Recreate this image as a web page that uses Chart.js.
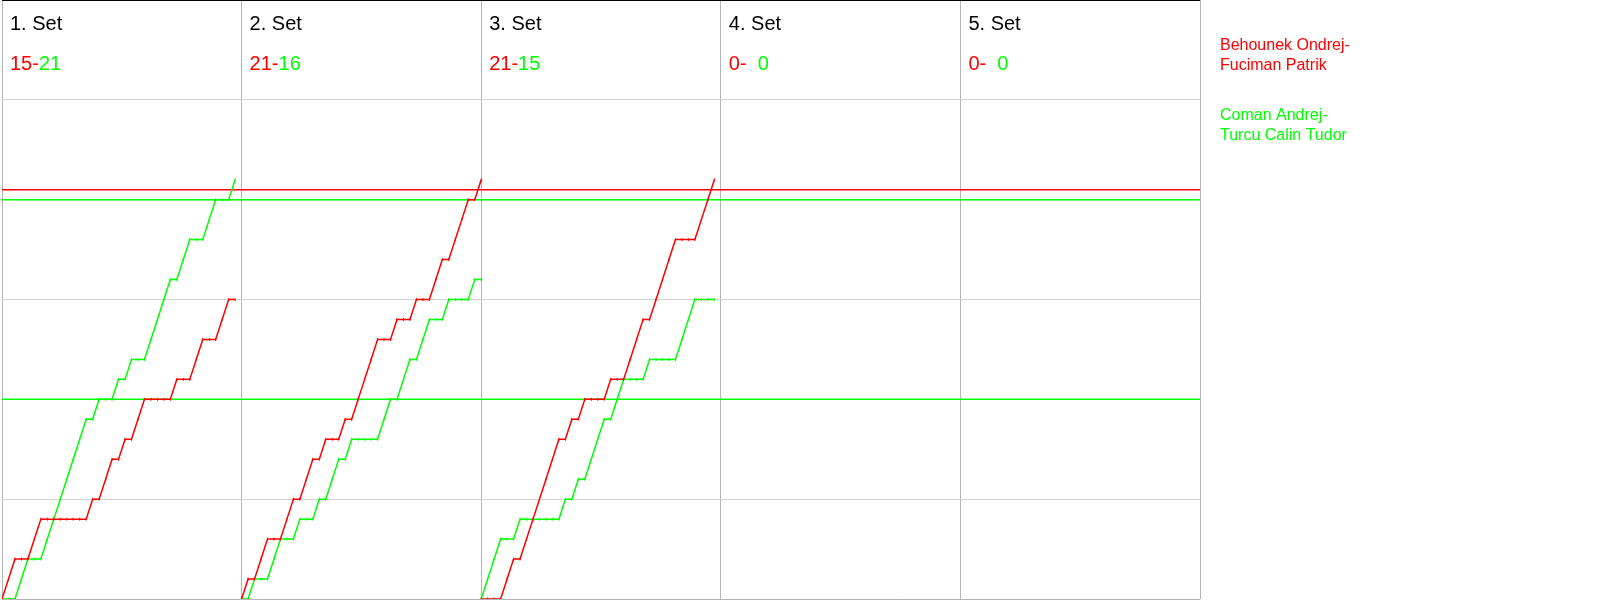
<!DOCTYPE html>
<html>
<head>
<meta charset="utf-8">
<script src="https://cdn.jsdelivr.net/npm/chart.js@4/dist/chart.umd.min.js"></script>
<style>
html,body{margin:0;padding:0;background:#fff;overflow:hidden}
canvas{display:block}
</style>
</head>
<body>
<canvas id="c" width="1600" height="600"></canvas>
<script>
// ---- data ----
const setLabels = ['1. Set', '2. Set', '3. Set', '4. Set', '5. Set'];
const redSetScores = [15, 21, 21, 0, 0];
const greenSetScores = [21, 16, 15, 0, 0];
const redTeam = ['Behounek Ondrej-', 'Fuciman Patrik'];
const greenTeam = ['Coman Andrej-', 'Turcu Calin Tudor'];
const ralliesPerPanel = 37;

// score after each rally (index 0 = start of set)
const set1Red   = [0,1,2,2,2,3,4,4,4,4,4,4,4,4,5,5,6,7,7,8,8,9,10,10,10,10,10,11,11,11,12,13,13,13,14,15,15];
const set1Green = [0,0,0,1,2,2,2,3,4,5,6,7,8,9,9,10,10,10,11,11,12,12,12,13,14,15,16,16,17,18,18,18,19,20,20,20,21];
const set2Red   = [0,1,1,2,3,3,3,4,5,5,6,7,7,8,8,8,9,9,10,11,12,13,13,13,14,14,14,15,15,15,16,17,17,18,19,20,20,21];
const set2Green = [0,0,1,1,1,2,3,3,3,4,4,4,5,5,6,7,7,8,8,8,8,8,9,10,10,11,12,12,13,14,14,14,15,15,15,15,16,16];
const set3Red   = [0,0,0,0,1,2,2,3,4,5,6,7,8,8,9,9,10,10,10,10,11,11,11,12,13,14,14,15,16,17,18,18,18,18,19,20,21];
const set3Green = [0,1,2,3,3,3,4,4,4,4,4,4,4,5,5,6,6,7,8,9,9,10,11,11,11,11,12,12,12,12,12,13,14,15,15,15,15];

const redSeries = [set1Red, set2Red, set3Red];
const greenSeries = [set1Green, set2Green, set3Green];

const redRefLevels = [20.5];
const greenRefLevels = [10, 20];

// ---- styling ----
const RED = '#ff0000';
const GREEN = '#00ff00';
const FONT = '"Liberation Sans", Arial, Helvetica, sans-serif';
const xMax = ralliesPerPanel * setLabels.length;

function progression(arr, setIdx) {
  return arr.map((v, i) => ({ x: setIdx * ralliesPerPanel + i, y: v }));
}

const datasets = [];
redSeries.forEach((arr, k) => datasets.push({
  data: progression(arr, k), borderColor: RED, pointBorderColor: RED, order: 1
}));
greenSeries.forEach((arr, k) => datasets.push({
  data: progression(arr, k), borderColor: GREEN, pointBorderColor: GREEN, order: 1
}));
redRefLevels.forEach(v => datasets.push({
  data: [{ x: 0, y: v }, { x: xMax, y: v }], borderColor: RED, pointRadius: 0, order: 2
}));
greenRefLevels.forEach(v => datasets.push({
  data: [{ x: 0, y: v }, { x: xMax, y: v }], borderColor: GREEN, pointRadius: 0, order: 2
}));

const textPlugin = {
  id: 'texts',
  afterDraw(chart) {
    const ctx = chart.ctx;
    const xs = chart.scales.x;
    ctx.save();
    ctx.textBaseline = 'alphabetic';
    ctx.textAlign = 'left';
    setLabels.forEach((lab, k) => {
      const px = xs.getPixelForValue(k * ralliesPerPanel) + 8;
      ctx.font = '20px ' + FONT;
      ctx.fillStyle = '#000000';
      ctx.fillText(lab, px, 30);
      const rTxt = redSetScores[k] + '-';
      ctx.fillStyle = RED;
      ctx.fillText(rTxt, px, 70);
      let gx = px + ctx.measureText(rTxt).width;
      if (greenSetScores[k] < 10) gx += ctx.measureText('0').width;
      ctx.fillStyle = GREEN;
      ctx.fillText(String(greenSetScores[k]), gx, 70);
    });
    ctx.font = '16px ' + FONT;
    ctx.fillStyle = RED;
    redTeam.forEach((t, i) => ctx.fillText(t, 1220, 50 + 20 * i));
    ctx.fillStyle = GREEN;
    greenTeam.forEach((t, i) => ctx.fillText(t, 1220, 120 + 20 * i));
    ctx.restore();
  }
};

new Chart(document.getElementById('c'), {
  type: 'line',
  data: { datasets },
  options: {
    responsive: false,
    animation: false,
    events: [],
    layout: { autoPadding: false, padding: { left: 2, right: 400, top: 0, bottom: 1 } },
    elements: {
      line: { borderWidth: 1.5, tension: 0, fill: false },
      point: { radius: 1.5, pointStyle: 'line', rotation: 90, borderWidth: 1 }
    },
    plugins: { legend: { display: false }, tooltip: { enabled: false } },
    scales: {
      x: {
        type: 'linear', min: 0, max: xMax,
        ticks: { display: false, stepSize: ralliesPerPanel, padding: 0 },
        grid: { color: '#b4b4b4', lineWidth: 1, drawTicks: false },
        border: { display: false }
      },
      y: {
        type: 'linear', min: 0, max: 30,
        ticks: { display: false, stepSize: 5, padding: 0 },
        grid: {
          drawTicks: false,
          color: c => c.tick.value === 30 ? '#000000' : (c.tick.value === 0 ? '#b4b4b4' : '#d3d3d3'),
          lineWidth: c => c.tick.value === 30 ? 2 : 1
        },
        border: { display: false }
      }
    }
  },
  plugins: [textPlugin]
});
</script>
</body>
</html>
